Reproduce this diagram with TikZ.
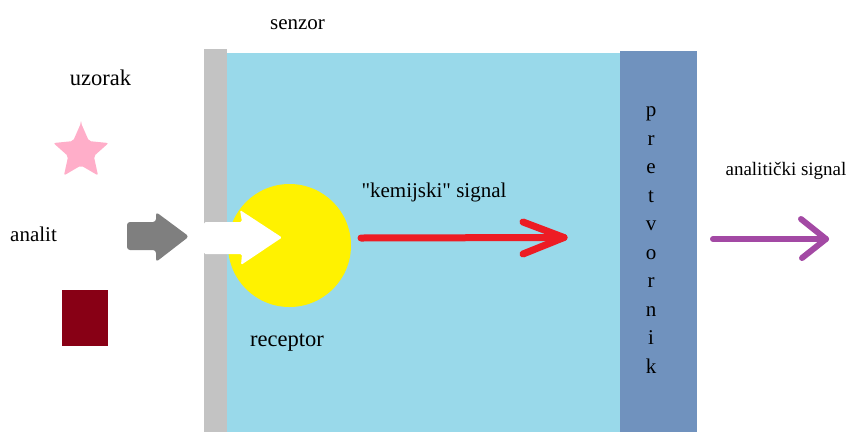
\documentclass[tikz,border=0pt]{standalone}
\usepackage{fontspec}
\setmainfont{Liberation Serif}[Ligatures=TeXOff]
\usetikzlibrary{calc}
\definecolor{lblue}{HTML}{99D9EA}
\definecolor{dblue}{HTML}{7092BE}
\definecolor{wallgray}{HTML}{C3C3C3}
\definecolor{recyellow}{HTML}{FFF200}
\definecolor{sigred}{HTML}{ED1C24}
\definecolor{sigpurple}{HTML}{A349A4}
\definecolor{starpink}{HTML}{FFAEC9}
\definecolor{sqred}{HTML}{880015}
\definecolor{arrgray}{HTML}{7F7F7F}
\tikzset{
  lbl/.style={inner sep=0pt, anchor=base, font=\fontsize{21}{25}\selectfont},
  vlet/.style={inner sep=0pt, anchor=base, font=\fontsize{21}{25}\selectfont},
  sigline/.style={line width=7pt, line cap=round, line join=round},
}
\begin{document}
\begin{tikzpicture}[x=1pt,y=1pt]
\useasboundingbox (0,0) rectangle (851,-432);
% sensor body
\fill[wallgray] (204,-49) rectangle (227,-432);
\fill[lblue] (227,-53) rectangle (620,-432);
\fill[dblue] (620,-50.5) rectangle (697,-432);
% receptor
\fill[recyellow] (289.5,-245.5) circle (61.5);
\node[inner sep=0pt, minimum size=0pt] (rec) at (289.5,-245.5) {};
% white arrow through wall into receptor
\fill[white, rounded corners=1.5pt] (204,-222) -- (242,-222) -- (240,-210) -- (282,-237.5) -- (241,-265) -- (242,-254) -- (204,-254) -- cycle;
% grey arrow (analyte entering)
\fill[arrgray, rounded corners=3pt] (127,-222) -- (156,-222) -- (156,-212) -- (189,-236.5) -- (156,-262) -- (156,-250) -- (127,-250) -- cycle;
% star
\fill[starpink, rounded corners=2pt, shift={(81,-152)}]
  (90:29) \foreach \k in {0,...,4} { -- (126+72*\k:13.5) -- (162+72*\k:29) } -- cycle;
% square
\fill[sqred] (62,-290) rectangle (108,-346);
% labels
\node[lbl] (senzor) at (297.5,-29) {senzor};
\node[lbl, font=\fontsize{22.5}{26}\selectfont] (uzorak) at (100.5,-85) {uzorak};
\node[lbl] (analit) at (33.5,-241) {analit};
\node[lbl, font=\fontsize{22.5}{26}\selectfont] (receptor) at (287,-346) {receptor};
\node[lbl] (kem) at (434,-197) {"kemijski" signal};
\node[lbl, font=\fontsize{19}{23}\selectfont] (anasig) at (786,-175) {analitički signal};
% pretvornik vertical
\foreach \ch [count=\i from 0] in {p,r,e,t,v,o,r,n,i,k}
  \node[vlet] (pv\i) at (651,{-116.5-28.5*\i}) {\ch};
% chemical signal arrow
\coordinate (ks) at (361,-238);
\coordinate (ke) at (564,-237.5);
\draw[sigred, sigline] (ks) -- (ke);
\draw[sigred, sigline] (523,-222) -- (ke) -- (523,-254);
% analytical signal arrow
\coordinate (as) at (713,-239);
\coordinate (ae) at (826,-239);
\draw[sigpurple, line width=6pt, line cap=round, line join=round] (as) -- (ae);
\draw[sigpurple, line width=6pt, line cap=round, line join=round] (801,-219) -- (ae) -- (802,-258);
\end{tikzpicture}
\end{document}
